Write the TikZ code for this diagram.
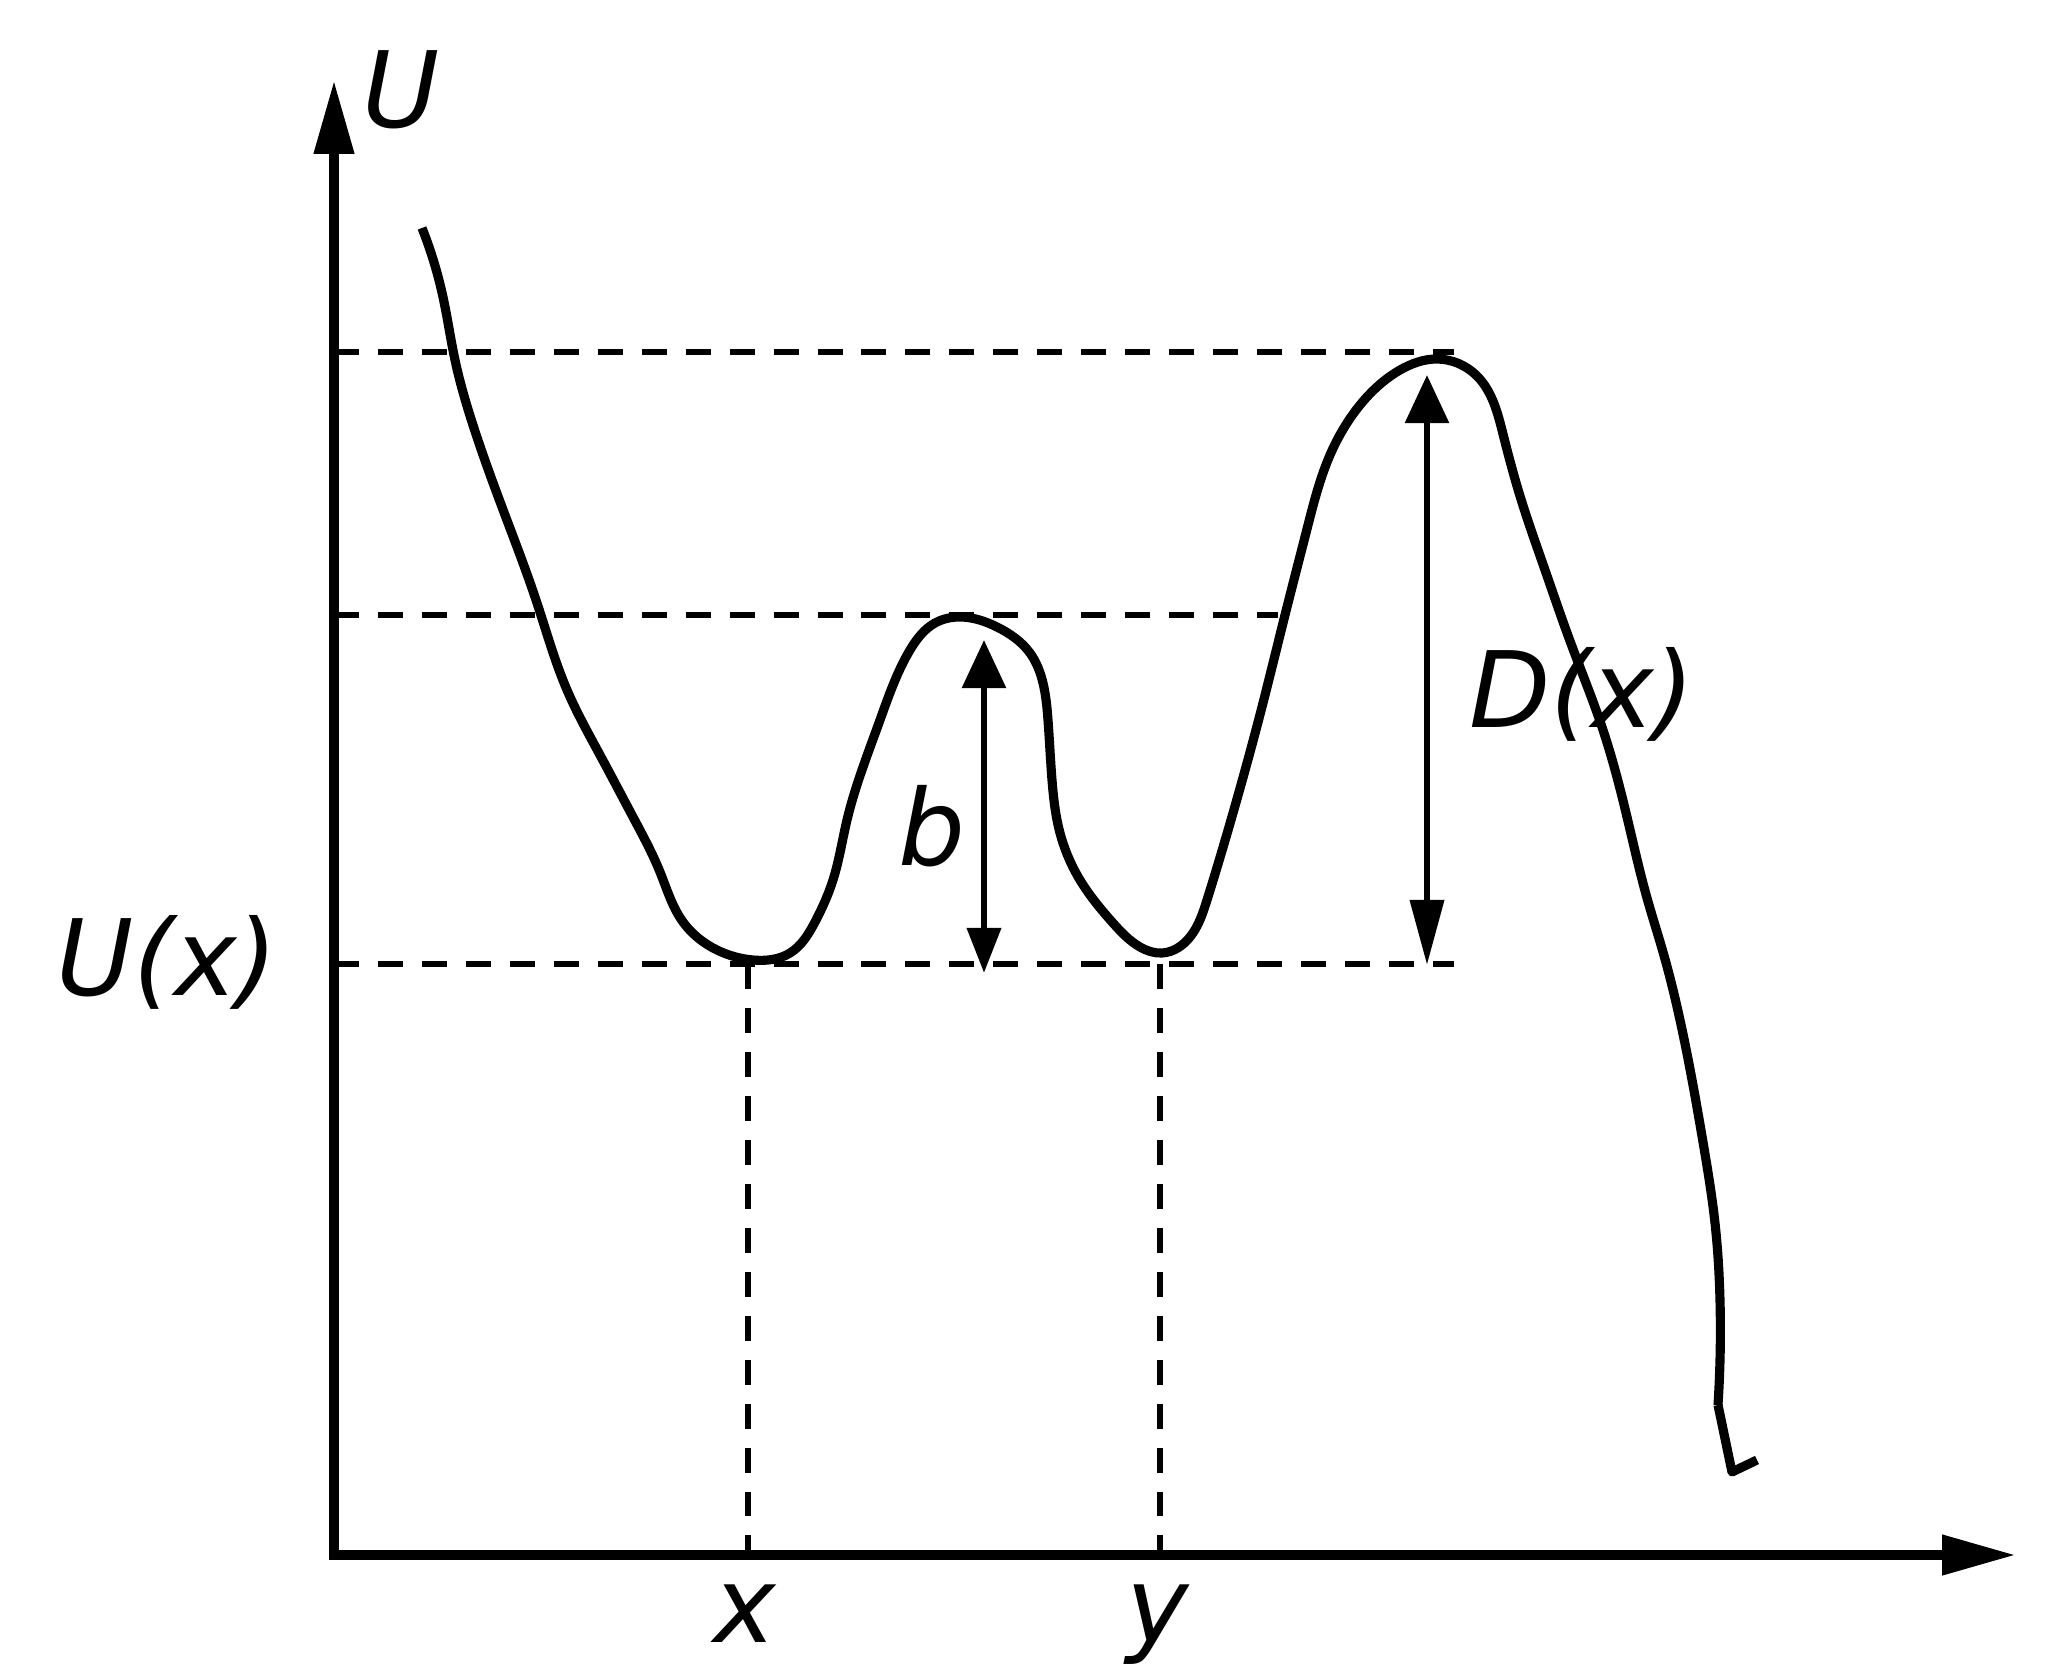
\documentclass[tikz,border=0pt]{standalone}
\usepackage{fontspec}
\newfontfamily\hand{DejaVu Sans}
\usetikzlibrary{arrows.meta,hobby}
\begin{document}
\begin{tikzpicture}[x=0.01cm,y=-0.01cm,
  axis/.style={line width=3pt},
  guide/.style={line width=1.9pt, dash pattern=on 7.1pt off 5.4pt},
  curve/.style={line width=2.6pt, line join=round},
  dim/.style={line width=1.9pt},
  lbl/.style={font=\hand\itshape\fontsize{30}{36}\selectfont, inner sep=0pt, anchor=base}]
\useasboundingbox (0,0) rectangle (2062,1678);
% axes
\coordinate (O) at (334,1555);
\coordinate (Ytip) at (334,80);
\coordinate (Xtip) at (2016,1555);
% guides
\coordinate (h1a) at (334,352);  \coordinate (h1b) at (1454,352);
\coordinate (h2a) at (334,615);  \coordinate (h2b) at (1278,615);
\coordinate (h3a) at (334,964);  \coordinate (h3b) at (1454,964);
\coordinate (v1a) at (748,964);  \coordinate (v1b) at (748,1555);
\coordinate (v2a) at (1160,964); \coordinate (v2b) at (1160,1555);
\draw[guide] (h1a) -- (h1b);
\draw[guide] (h2a) -- (h2b);
\draw[guide] (h3a) -- (h3b);
\draw[guide] (v1a) -- (v1b);
\draw[guide] (v2a) -- (v2b);
\draw[axis,{Triangle[length=21pt,width=10.8pt]}-{Triangle[length=21pt,width=10.8pt]}] (Ytip) -- (O) -- (Xtip);
% potential curve
\draw[curve, use Hobby shortcut]
 (422,228) .. (443,297) .. (455,360) .. (472,422) .. (505,515) .. (537,603)
 .. (567,690) .. (600,755) .. (633,817) .. (660,872) .. (683,922) .. (717,950)
 .. (753,960) .. (790,953) .. (815,922) .. (833,880) .. (847,820) .. (863,767)
 .. (880,720) .. (910,650) .. (935,623) .. (962,617) .. (997,627) .. (1030,653)
 .. (1043,683) .. (1048,720) .. (1052,780) .. (1060,833) .. (1080,880)
 .. (1113,923) .. (1140,947) .. (1162,953) .. (1190,937) .. (1207,900)
 .. (1233,813) .. (1263,703) .. (1285,615) .. (1307,529) .. (1330,455)
 .. (1360,405) .. (1400,370) .. (1437,359) .. (1477,376) .. (1503,434)
 .. (1520,496) .. (1545,570) .. (1570,641) .. (1603,730) .. (1627,817)
 .. (1647,898) .. (1663,952) .. (1683,1034) .. (1703,1142) .. (1715,1223)
 .. (1720,1300) .. (1718,1405);
\draw[curve] (1718,1405) -- (1732,1472) -- (1757,1460);
% dimension arrows
\coordinate (bt) at (984,640);  \coordinate (bb) at (984,973);
\coordinate (Dt) at (1427,375); \coordinate (Db) at (1427,965);
\draw[dim,{Triangle[length=12.8pt,width=9.4pt]}-{Triangle[length=13.7pt,width=12.2pt]}] (bb) -- (bt);
\draw[dim,{Triangle[length=18.5pt,width=9.4pt]}-{Triangle[length=13.7pt,width=12.2pt]}] (Db) -- (Dt);
% labels
\node[lbl] (Ulab) at (401,127) {U};
\node[lbl] (Uxlab) at (167,995) {U(x)};
\node[lbl] (xlab) at (745,1642) {x};
\node[lbl] (ylab) at (1158,1642) {y};
\node[lbl] (blab) at (932,865) {b};
\node[lbl] (Dlab) at (1582,727) {D(x)};
\end{tikzpicture}
\end{document}
